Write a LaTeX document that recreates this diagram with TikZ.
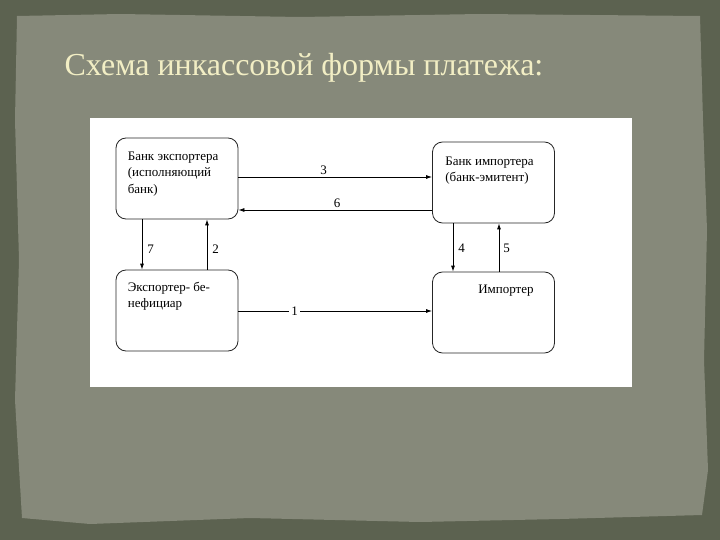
\documentclass[tikz,border=0pt]{standalone}
\usepackage{fontspec}
\setmainfont{Liberation Serif}
\usetikzlibrary{arrows.meta}

\definecolor{frame}{RGB}{92,98,80}
\definecolor{paper}{RGB}{134,137,122}
\definecolor{title}{RGB}{242,238,196}

\tikzset{
  box/.style={draw=black!85, line width=.8pt, rounded corners=10pt, fill=white,
    minimum width=122pt, minimum height=81pt, inner sep=0pt},
  boxtext/.style={anchor=north west, inner sep=0pt, align=left,
    font=\fontsize{13}{16.5}\selectfont},
  arr/.style={-{Latex[length=6pt,width=4pt]}, line width=.8pt}
}

\begin{document}
\begin{tikzpicture}[x=1pt,y=-1pt]

      \useasboundingbox (0,0) rectangle (720,540);
      \fill[frame] (0,0) rectangle (720,540);
      \fill[paper] (17,16) -- (120,14) -- (300,17) -- (480,14) -- (700,16)
        -- (703,120) -- (707,230) -- (704,360) -- (708,470) -- (702,515)
        -- (560,519) -- (420,522) -- (250,518) -- (90,524) -- (22,518)
        -- (15,400) -- (19,260) -- (15,120) -- cycle;
      \node[anchor=base west, text=title, font=\fontsize{32}{36}\selectfont] (title) at (61,76)
        {Схема инкассовой формы платежа:};
      \fill[white] (90,118) rectangle (632,387);

      \begin{scope}[every node/.style={box}]
        \node (bexp)  at (177,178.5) {};
        \node (bimp)  at (493.5,182.5) {};
        \node (bben)  at (177,310.5) {};
        \node (bimpr) at (493.5,312.5) {};
      \end{scope}

      \begin{scope}[every node/.style={boxtext}]
        \node (tbexp)  at ([shift={(12,14)}]bexp.north west) {Банк экспортера\\(исполняющий\\банк)};
        \node (tbimp)  at ([shift={(13,15)}]bimp.north west) {Банк импортера\\(банк-эмитент)};
        \node (tbben)  at ([shift={(12,12)}]bben.north west) {Экспортер- бе-\\нефициар};
        \node (tbimpr) at ([shift={(46,13)}]bimpr.north west) {Импортер};
      \end{scope}

      \begin{scope}[every node/.style={font=\fontsize{13}{15}\selectfont, inner sep=2pt}]

        \begin{scope}[every edge/.style={draw, arr}]
          \path ([yshift=1.5pt]bexp.east)  edge node[pos=.44, above] {3} ([yshift=5.5pt]bimp.west);
          \path ([yshift=-27.5pt]bimp.west) edge node[pos=.49, above] {6} ([yshift=-31.5pt]bexp.east);
          \path ([xshift=-35pt]bexp.south) edge node[pos=.59, right=3pt] {7} ([xshift=-35pt]bben.north);
          \path ([xshift=30pt]bben.north)  edge node[pos=.41, right=3pt] {2} ([xshift=30pt]bexp.south);
          \path ([xshift=-40.5pt]bimp.south) edge node[pos=.51, right=3pt] {4} ([xshift=-40.5pt]bimpr.north);
          \path ([xshift=5.5pt]bimpr.north) edge node[pos=.49, right=2pt] {5} ([xshift=5.5pt]bimp.south);
          \path ([yshift=-.5pt]bben.east)  edge node[pos=.29, fill=white] {1} ([yshift=1.5pt]bimpr.west);
        \end{scope}
      \end{scope}

    \end{tikzpicture}
\end{document}
